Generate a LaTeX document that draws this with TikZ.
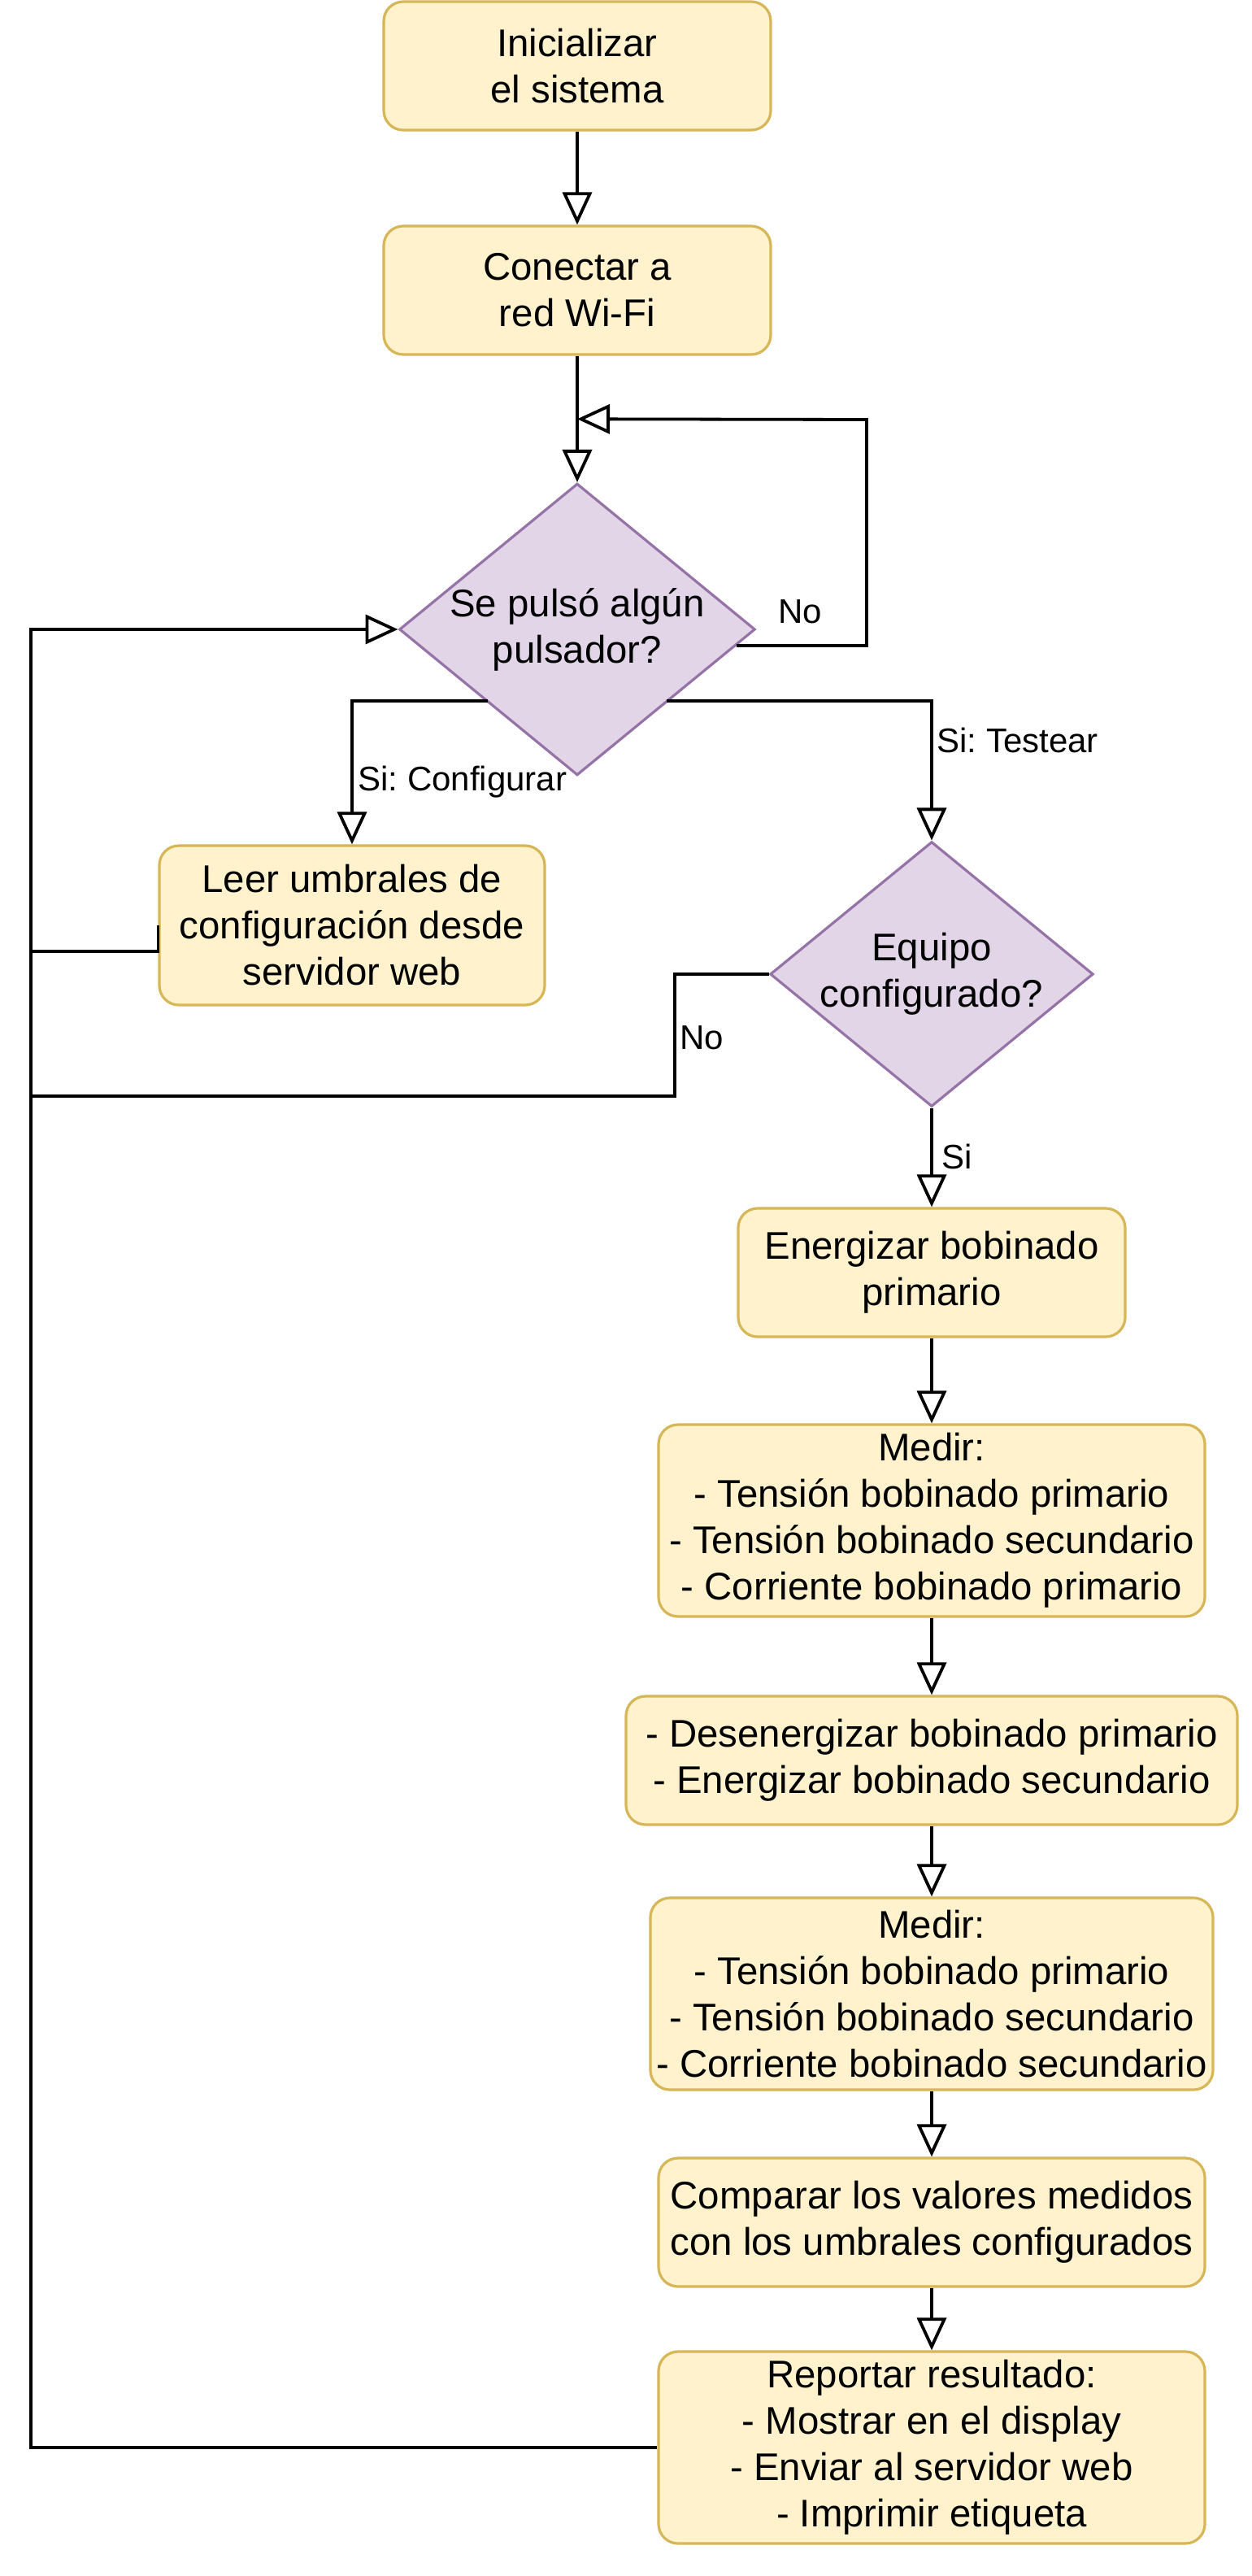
\documentclass[tikz,border=0pt]{standalone}
\usepackage{fontspec}
\setmainfont{Liberation Sans}
\frenchspacing
\usetikzlibrary{arrows.meta, positioning, shapes.geometric, calc}
\definecolor{boxfill}{HTML}{FFF2CC}
\definecolor{boxline}{HTML}{D6B656}
\definecolor{decfill}{HTML}{E1D5E7}
\definecolor{decline}{HTML}{9673A6}
\tikzset{
  stepbox/.style={draw=boxline, fill=boxfill, line width=1.6pt, rounded corners=12pt,
    align=center, inner sep=2pt, minimum height=79pt, font=\fontsize{23.7}{28.5}\selectfont},
  decision/.style={diamond, draw=decline, fill=decfill, line width=1.6pt, aspect=1.22,
    inner sep=0pt, align=center, font=\fontsize{23.7}{28.5}\selectfont},
  link/.style={line width=1.9pt},
  flow/.style={link, -{Triangle[length=20pt, width=18pt, fill=white]}},
  edgelabel/.style={font=\fontsize{21}{25}\selectfont, inner sep=0pt}
}

\begin{document}
\begin{tikzpicture}[x=1pt, y=-1pt]
    \useasboundingbox (0,0) rectangle (770,1584);

    % Start and Wi-Fi
    \node[stepbox, minimum width=238pt] (A) at (355,40.5) {Inicializar\\el sistema};
    \node[stepbox, minimum width=238pt] (B) at (355,178.5) {Conectar a\\red Wi-Fi};

    % Decisions
    \node[decision, minimum width=218pt, minimum height=178pt] (D1) at (355,387) {Se pulsó algún\\pulsador?};
    \node[decision, minimum width=198pt, minimum height=158pt] (D2) at (573,599) {Equipo\\configurado?};

    % Configuration branch
    \node[stepbox, minimum width=237pt, minimum height=98pt] (C) at (216.5,569) {Leer umbrales de\\configuración desde\\servidor web};

    % Test sequence
    \node[stepbox, minimum width=238pt] (E) at (573,782.5) {Energizar bobinado\\primario};
    \node[stepbox, minimum width=336pt, minimum height=118pt] (F) at (573,935) {Medir:\\- Tensión bobinado primario\\- Tensión bobinado secundario\\- Corriente bobinado primario};
    \node[stepbox, minimum width=376pt] (G) at (573,1082.5) {- Desenergizar bobinado primario\\- Energizar bobinado secundario};
    \node[stepbox, minimum width=346pt, minimum height=118pt] (H) at (573,1226) {Medir:\\- Tensión bobinado primario\\- Tensión bobinado secundario\\- Corriente bobinado secundario};
    \node[stepbox, minimum width=336pt] (I) at (573,1366.5) {Comparar los valores medidos\\con los umbrales configurados};
    \node[stepbox, minimum width=336pt, minimum height=118pt] (J) at (573,1505) {Reportar resultado:\\- Mostrar en el display\\- Enviar al servidor web\\- Imprimir etiqueta};

    % Helper points
    \coordinate (loopin) at ($(B.south)!0.5!(D1.north)$);
    \coordinate (noturn) at (533,258);
    \coordinate (nojoin) at (415,674);
    \coordinate (busTop) at (19,387);
    \coordinate (busBot) at (19,1505);

    % Straight steps
    \foreach \a/\b in {A/B, B/D1, E/F, F/G, G/H, H/I, I/J}
        \draw[flow] (\a) -- (\b);

    % No button pressed: wait
    \draw[flow] ($(D1.center)+(98,10)$) -| (noturn) -- (loopin);
    \node[edgelabel] (lblNo1) at (492,376) {No};

    % Si branches
    \draw[flow] ($(D1.center)+(-55,44)$) -| (C.north);
    \node[edgelabel, anchor=west] (lblConf) at (220,481) {Si: Configurar};
    \draw[flow] ($(D1.center)+(55,44)$) -| (D2.north);
    \node[edgelabel, anchor=west] (lblTest) at (576,455) {Si: Testear};

    % Configured?
    \draw[flow] (D2.south) -- (E.north);
    \node[edgelabel, anchor=west] (lblSi) at (579,711) {Si};
    \draw[link] (D2.west) -| (nojoin) -- (busTop |- nojoin);
    \node[edgelabel, anchor=west] (lblNo2) at (418,638) {No};

    % Return paths
    \draw[link] (C.west) -- ++(0,16) coordinate (cjoin) -- (busTop |- cjoin);
    \draw[flow] (J.west) -- (busBot) -- (busTop) -- (D1.west);
\end{tikzpicture}
\end{document}
